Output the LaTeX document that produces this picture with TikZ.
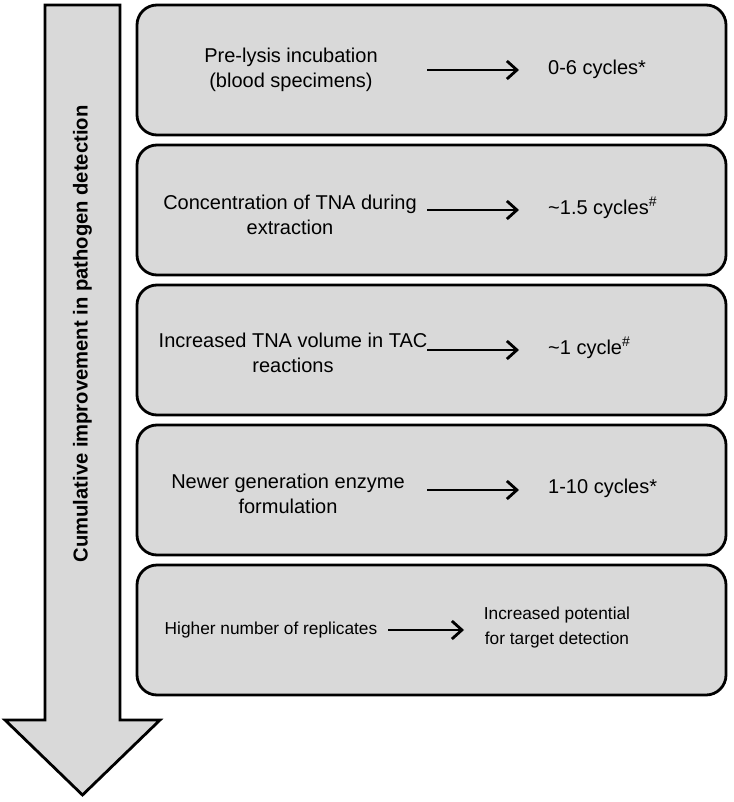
\documentclass[tikz,border=0pt]{standalone}
\usepackage{fontspec}
\setmainfont{Liberation Sans}
\usetikzlibrary{arrows.meta}
\definecolor{boxgray}{HTML}{D9D9D9}
\begin{document}
\begin{tikzpicture}[x=1pt,y=-1pt,
  stepbox/.style={draw=black,fill=boxgray,line width=2.8pt,rounded corners=20pt},
  txt/.style={inner sep=0pt,align=center,font=\fontsize{20}{25}\selectfont},
  smalltxt/.style={inner sep=0pt,align=center,font=\fontsize{17.3}{25}\selectfont},
  rtxt/.style={inner sep=0pt,align=center,anchor=west,font=\fontsize{20}{25}\selectfont},
  conn/.style={line width=2.8pt,-{Straight Barb[length=10pt,width=18pt,line width=2.8pt]}}
]
\useasboundingbox (0,0) rectangle (733,802);
% big arrow
\draw[fill=boxgray,line width=2.8pt,line join=miter] (45,5) -- (120,5) -- (120,720) -- (160,720) -- (82.5,795) -- (5,720) -- (45,720) -- cycle;
\node[rotate=90,inner sep=0pt,font=\fontsize{20.2}{24}\selectfont\bfseries] (vlab) at (82.5,334) {Cumulative improvement in pathogen detection};
% boxes
\foreach \i/\t in {1/5,2/145,3/285,4/425,5/565}{
  \draw[stepbox] (137,\t) rectangle (726,\t+130);
  \node[inner sep=0pt] (b\i) at (432,\t+65) {};
}
% box 1
\node[txt] (l1) at (291,70) {Pre-lysis incubation\\(blood specimens)};
\node[rtxt] (r1) at (548,69) {0-6 cycles*};
\coordinate (s1) at (427,70); \coordinate (e1) at (519,70);
\draw[conn] (s1) -- (e1);
% box 2
\node[txt] (l2) at (290,215) {Concentration of TNA during\\extraction};
\node[rtxt] (r2) at (548,208) {\textasciitilde1.5 cycles\textsuperscript{\#}};
\coordinate (s2) at (427,210); \coordinate (e2) at (519,210);
\draw[conn] (s2) -- (e2);
% box 3
\node[txt] (l3) at (293,353) {Increased TNA volume in TAC\\reactions};
\node[rtxt] (r3) at (548,348) {\textasciitilde1 cycle\textsuperscript{\#}};
\coordinate (s3) at (427,350); \coordinate (e3) at (519,350);
\draw[conn] (s3) -- (e3);
% box 4
\node[txt] (l4) at (288,494) {Newer generation enzyme\\formulation};
\node[rtxt] (r4) at (548,488) {1-10 cycles*};
\coordinate (s4) at (427,490); \coordinate (e4) at (519,490);
\draw[conn] (s4) -- (e4);
% box 5
\node[smalltxt] (l5) at (271,630) {Higher number of replicates};
\node[smalltxt] (r5) at (557,628) {Increased potential\\for target detection};
\coordinate (s5) at (388,630); \coordinate (e5) at (464,630);
\draw[conn] (s5) -- (e5);
\end{tikzpicture}
\end{document}
